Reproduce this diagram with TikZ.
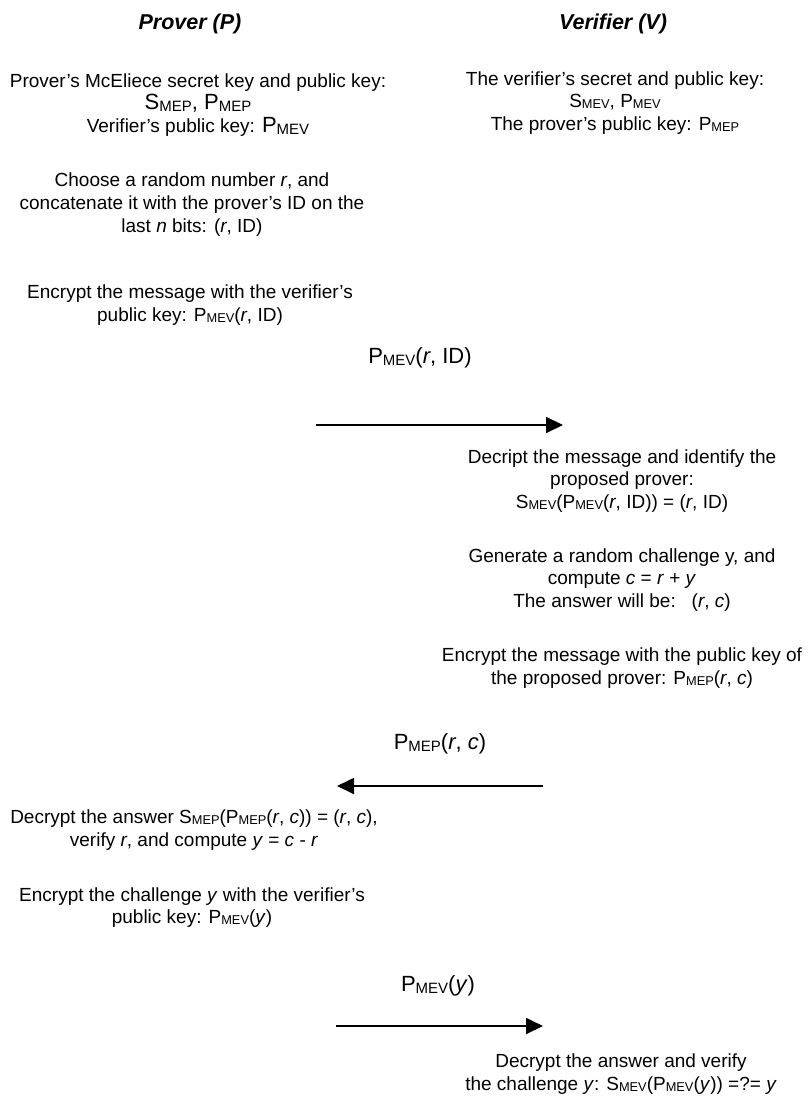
\documentclass[tikz,border=0pt]{standalone}
\usepackage{fontspec}
\setmainfont{Liberation Sans}
\usetikzlibrary{arrows.meta}
\newcommand\sbs[1]{\raisebox{-1pt}{\fontsize{12.8}{12.8}\selectfont #1}}
\newcommand\sbl[1]{\raisebox{-1.5pt}{\fontsize{15}{15}\selectfont #1}}
\newcommand\lgP{{\fontsize{22}{22}\selectfont P}}
\begin{document}
\begin{tikzpicture}[x=1pt,y=-1pt,
  txt/.style={align=center,inner sep=0pt,font=\fontsize{19}{22.8}\selectfont},
  hdr/.style={inner sep=0pt,font=\fontsize{21.5}{26}\selectfont\bfseries\itshape},
  lbl/.style={inner sep=0pt,font=\fontsize{22}{26}\selectfont},
  msg/.style={line width=1.8pt,-{Triangle[length=17pt,width=16pt]}}]
\path[use as bounding box] (0,0) rectangle (808,1099);
\node[hdr] (hp) at (190,24) {Prover (P)};
\node[hdr] (hv) at (613,24) {Verifier (V)};
\node[txt] (p1) at (198,105) {Prover’s McEliece secret key and public key:\\
  {\fontsize{22}{22}\selectfont S\sbl{MEP}, P\sbl{MEP}}\\
  Verifier’s public key: \lgP\sbl{MEV}};
\node[txt] (v1) at (615,103) {The verifier’s secret and public key:\\
  S\sbs{MEV}, P\sbs{MEV}\\
  The prover’s public key: P\sbs{MEP}};
\node[txt] (p2) at (192,204.5) {Choose a random number \textit{r}, and\\
  concatenate it with the prover’s ID on the\\
  last \textit{n} bits: (\textit{r}, ID)};
\node[txt] (p3) at (190,305) {Encrypt the message with the verifier’s\\
  public key: P\sbs{MEV}(\textit{r}, ID)};
\node[lbl] (l1) at (420,358) {P\sbl{MEV}(\textit{r}, ID)};
\coordinate (a1s) at (316,425);
\coordinate (a1e) at (563,425);
\draw[msg] (a1s) -- (a1e);
\node[txt] (v2) at (622,481) {Decript the message and identify the\\
  proposed prover:\\
  S\sbs{MEV}(P\sbs{MEV}(\textit{r}, ID)) = (\textit{r}, ID)};
\node[txt] (v3) at (622,580) {Generate a random challenge y, and\\
  compute \textit{c} = \textit{r} + \textit{y}\\
  The answer will be:\ \ \ (\textit{r}, \textit{c})};
\node[txt] (v4) at (622,668) {Encrypt the message with the public key of\\
  the proposed prover: P\sbs{MEP}(\textit{r}, \textit{c})};
\node[lbl] (l2) at (440,744) {P\sbl{MEP}(\textit{r}, \textit{c})};
\coordinate (a2s) at (543,786);
\coordinate (a2e) at (337,786);
\draw[msg] (a2s) -- (a2e);
\node[txt] (p4) at (194,830) {Decrypt the answer S\sbs{MEP}(P\sbs{MEP}(\textit{r}, \textit{c})) = (\textit{r}, \textit{c}),\\
  verify \textit{r}, and compute \textit{y} = \textit{c} - \textit{r}};
\node[txt] (p5) at (192,907.5) {Encrypt the challenge \textit{y} with the verifier’s\\
  public key: P\sbs{MEV}(\textit{y})};
\node[lbl] (l3) at (438,986) {P\sbl{MEV}(\textit{y})};
\coordinate (a3s) at (336,1026);
\coordinate (a3e) at (543,1026);
\draw[msg] (a3s) -- (a3e);
\node[txt] (v5) at (621,1074) {Decrypt the answer and verify\\
  the challenge \textit{y}: S\sbs{MEV}(P\sbs{MEV}(\textit{y})) =?= \textit{y}};
\end{tikzpicture}
\end{document}
